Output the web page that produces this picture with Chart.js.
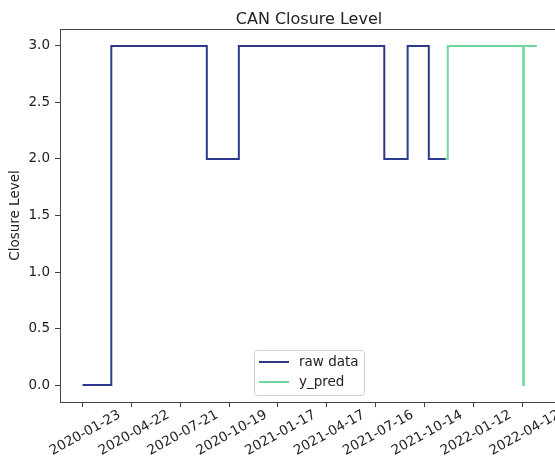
<!DOCTYPE html>
<html lang="en">
  <head>
    <meta charset="UTF-8" />
    <title>CAN Closure Level</title>
    <style>
      html,
      body {
        margin: 0;
        padding: 0;
        background: #fff;
      }
      #wrap {
        width: 555px;
        height: 460px;
      }
    </style>
  </head>
  <body>
    <div id="wrap">
      <canvas id="closureChart" width="555" height="460"></canvas>
    </div>

    <script src="https://cdn.jsdelivr.net/npm/chart.js@4.4.0/dist/chart.umd.min.js"></script>
    <script>
      // tick labels on the date axis (every 90 days)
      const tickDates = [
        "2020-01-23",
        "2020-04-22",
        "2020-07-21",
        "2020-10-19",
        "2021-01-17",
        "2021-04-17",
        "2021-07-16",
        "2021-10-14",
        "2022-01-12",
        "2022-04-12",
      ];
      const yTicks = [0, 0.5, 1, 1.5, 2, 2.5, 3];

      // raw data: date where the level changes, and the new level
      const rawDates = [
        "2020-01-23",
        "2020-03-16",
        "2020-09-08",
        "2020-11-06",
        "2021-08-01",
        "2021-09-13",
        "2021-10-22",
        "2021-11-22",
      ];
      const rawValues = [0, 3, 2, 3, 2, 3, 2, 2];

      // prediction
      const predDates = [
        "2021-11-22",
        "2021-11-26",
        "2022-04-14",
        "2022-04-15",
        "2022-05-09",
      ];
      const predValues = [2, 3, 0, 3, 3];

      const DAY = 86400000;
      const t0 = Date.parse(tickDates[0]);
      const dayOf = (d) => (Date.parse(d) - t0) / DAY;
      const toPoints = (dates, vals) =>
        dates.map((d, i) => ({ x: dayOf(d), y: vals[i] }));

      const axisColor = "#444";
      const textColor = "#222";
      const font = "DejaVu Sans";

      // frame on top + title centred over the axes + legend inside the plot
      const decor = {
        id: "decor",
        afterDraw(chart) {
          const { ctx, chartArea } = chart;
          ctx.save();
          ctx.strokeStyle = axisColor;
          ctx.lineWidth = 1;
          ctx.beginPath();
          ctx.moveTo(chartArea.left, chartArea.top + 0.5);
          ctx.lineTo(chartArea.right, chartArea.top + 0.5);
          ctx.stroke();

          ctx.fillStyle = textColor;
          ctx.font = "16px " + font;
          ctx.textAlign = "center";
          ctx.textBaseline = "alphabetic";
          ctx.fillText("CAN Closure Level", 309, 24);

          // legend
          const bx = 254, by = 350, bw = 110, bh = 45;
          ctx.fillStyle = "rgba(255,255,255,0.8)";
          ctx.strokeStyle = "#d0d0d0";
          ctx.beginPath();
          ctx.roundRect(bx + 0.5, by + 0.5, bw, bh, 3);
          ctx.fill();
          ctx.stroke();
          ctx.font = "13.5px " + font;
          ctx.textAlign = "left";
          ctx.textBaseline = "middle";
          chart.data.datasets.forEach((ds, i) => {
            const y = by + 12 + i * 20;
            ctx.strokeStyle = ds.borderColor;
            ctx.lineWidth = 2;
            ctx.beginPath();
            ctx.moveTo(bx + 5, y);
            ctx.lineTo(bx + 35, y);
            ctx.stroke();
            ctx.fillStyle = textColor;
            ctx.fillText(ds.label, bx + 45, y);
          });
          ctx.restore();
        },
      };

      new Chart(document.getElementById("closureChart"), {
        type: "line",
        data: {
          datasets: [
            {
              label: "raw data",
              data: toPoints(rawDates, rawValues),
              borderColor: "#2d3a8c",
              borderWidth: 2,
              stepped: "before",
              pointRadius: 0,
              fill: false,
            },
            {
              label: "y_pred",
              data: toPoints(predDates, predValues),
              borderColor: "#6cd99a",
              borderWidth: 2,
              stepped: "before",
              pointRadius: 0,
              fill: false,
            },
          ],
        },
        options: {
          responsive: false,
          animation: false,
          devicePixelRatio: 1,
          layout: { padding: { top: 29, right: 0, bottom: 0, left: 0 } },
          plugins: {
            legend: { display: false },
            title: { display: false },
            tooltip: { enabled: false },
          },
          scales: {
            x: {
              type: "linear",
              min: -41.5,
              max: 870.5,
              afterBuildTicks: (s) => {
                s.ticks = tickDates.map((d) => ({ value: dayOf(d) }));
              },
              afterFit: (s) => {
                s.height = 58;
                s.paddingLeft = 0;
                s.paddingRight = 0;
              },
              ticks: {
                autoSkip: false,
                minRotation: 29,
                maxRotation: 29,
                labelOffset: 37,
                padding: 0,
                color: textColor,
                font: { family: font, size: 13.5 },
                callback: (v) => tickDates[tickDates.findIndex((d) => dayOf(d) === v)],
              },
              grid: {
                drawOnChartArea: false,
                drawTicks: true,
                tickLength: 5,
                color: axisColor,
              },
              border: { color: axisColor, width: 1 },
            },
            y: {
              min: -0.15,
              max: 3.15,
              afterBuildTicks: (s) => {
                s.ticks = yTicks.map((v) => ({ value: v }));
              },
              afterFit: (s) => {
                s.width = 60;
              },
              ticks: {
                padding: 5,
                color: textColor,
                font: { family: font, size: 13.5 },
                callback: (v) => v.toFixed(1),
              },
              grid: {
                drawOnChartArea: false,
                drawTicks: true,
                tickLength: 5,
                color: axisColor,
              },
              border: { color: axisColor, width: 1 },
              title: {
                display: true,
                text: "Closure Level",
                color: textColor,
                font: { family: font, size: 13.5 },
                padding: { top: 7, bottom: 0 },
              },
            },
          },
        },
        plugins: [decor],
      });
    </script>
  </body>
</html>
